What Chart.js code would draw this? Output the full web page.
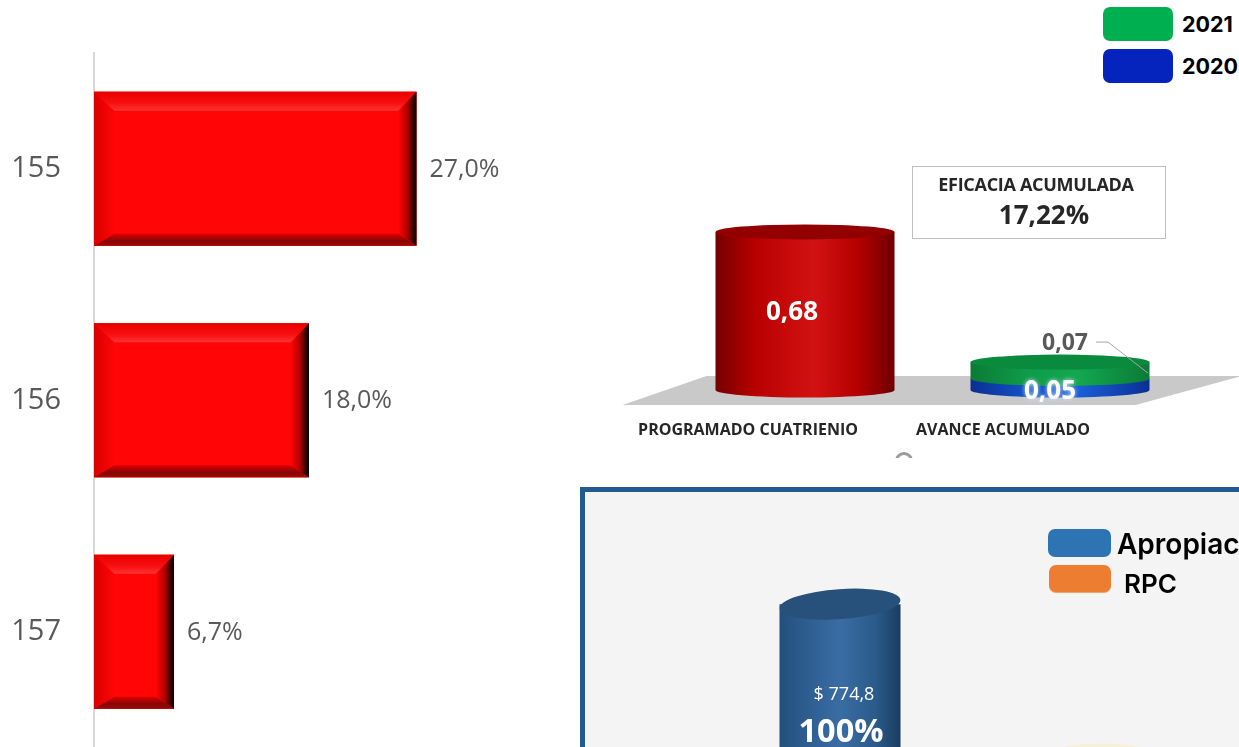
<!DOCTYPE html>
<html lang="es">
<head>
    <meta charset="UTF-8">
    <title>Eficacia acumulada</title>
    <style>
        html, body { margin: 0; padding: 0; background: #fff; }
        #page { position: relative; width: 1239px; height: 747px; overflow: hidden; background: #fff; font-family: "Open Sans", sans-serif; }
        canvas { position: absolute; }
        .swatch { position: absolute; border-radius: 7px; }
        .legendText { position: absolute; font-family: Inter, sans-serif; color: #000; white-space: nowrap; line-height: 1; }
        #panel { position: absolute; left: 580px; top: 487px; width: 800px; height: 500px; background: #f4f4f4; border: 5px solid #235a8f; }
        #eficacia { position: absolute; left: 912px; top: 166px; width: 252px; height: 71px; border: 1.5px solid #bfbfbf; background: #fff; text-align: center; color: #262626; }
        #eficacia .t1 { position: absolute; left: -2px; width: 250px; top: 5px; font-size: 18px; font-weight: 700; letter-spacing: -0.3px; }
        #eficacia .t2 { position: absolute; left: 6px; width: 250px; top: 29px; font-size: 26px; font-weight: 700; }
        #stray { position: absolute; left: 895px; top: 452px; width: 18px; height: 6px; overflow: hidden; }
        #stray div { width: 12px; height: 12px; border: 3px solid #9a9a9a; border-radius: 50%; }
    </style>
</head>
<body>
<div id="page">
    <div id="panel"></div>
    <canvas id="metasChart" width="512" height="790" style="left:0;top:0"></canvas>
    <canvas id="avanceChart" width="639" height="310" style="left:600px;top:150px"></canvas>
    <canvas id="presupuestoChart" width="654" height="500" style="left:585px;top:492px"></canvas>

    <div class="swatch" style="left:1103px;top:7px;width:70px;height:34px;background:#00b050"></div>
    <div class="legendText" style="left:1182px;top:14px;font-size:21.5px;font-weight:700">2021</div>
    <div class="swatch" style="left:1103px;top:49px;width:70px;height:34px;background:#0424bd"></div>
    <div class="legendText" style="left:1182px;top:56px;font-size:21.5px;font-weight:700">2020</div>

    <div id="eficacia"><div class="t1">EFICACIA ACUMULADA</div><div class="t2">17,22%</div></div>
    <div id="stray"><div></div></div>

    <div class="swatch" style="left:1048px;top:529px;width:63px;height:28px;background:#2e74b5"></div>
    <div class="legendText" style="left:1117px;top:530px;font-size:28px;font-weight:600">Apropiación</div>
    <div class="swatch" style="left:1049px;top:565px;width:62px;height:27px;background:#ed7d31;border-bottom:1px solid #f4a26c"></div>
    <div class="legendText" style="left:1124px;top:571px;font-size:26px;font-weight:600">RPC</div>
</div>

<script src="https://cdnjs.cloudflare.com/ajax/libs/Chart.js/4.4.1/chart.umd.js"></script>
<script>
    // left chart
    const metaLabels = ['155', '156', '157'];
    const metaValues = [27.0, 18.0, 6.7];

    // middle chart
    const avanceLabels = ['PROGRAMADO CUATRIENIO', 'AVANCE ACUMULADO'];
    const programado = [0.68, null];
    const avance2020 = [null, 0.05];
    const avance2021 = [null, 0.07];

    // bottom chart, cut off by the picture (RPC value estimated from where its top shows)
    const presupuestoLabels = ['Apropiación', 'RPC'];
    const presupuestoValues = [774.8, 425];
    const presupuestoPct = ['100%', ''];

    function comma(v, d) {
        return v.toFixed(d).replace('.', ',');
    }

    function hGrad(ctx, x0, x1, stops) {
        const g = ctx.createLinearGradient(x0, 0, x1, 0);
        stops.forEach(s => g.addColorStop(s[0], s[1]));
        return g;
    }

    function vGrad(ctx, y0, y1, stops) {
        const g = ctx.createLinearGradient(0, y0, 0, y1);
        stops.forEach(s => g.addColorStop(s[0], s[1]));
        return g;
    }

    function poly(ctx, pts, fill) {
        ctx.beginPath();
        pts.forEach((p, i) => i ? ctx.lineTo(p[0], p[1]) : ctx.moveTo(p[0], p[1]));
        ctx.closePath();
        ctx.fillStyle = fill;
        ctx.fill();
    }

    const bevelBars = {
        id: 'bevelBars',
        afterDatasetsDraw(chart) {
            const ctx = chart.ctx;
            chart.getDatasetMeta(0).data.forEach((bar, i) => {
                const x0 = bar.base, x1 = bar.x;
                const y0 = bar.y - bar.height / 2, y1 = bar.y + bar.height / 2;
                const t = 19, b = 12, l = 20, r = 18;
                ctx.save();
                ctx.fillStyle = '#ff0505';
                ctx.fillRect(x0, y0, x1 - x0, y1 - y0);
                poly(ctx, [[x0, y0], [x1, y0], [x1 - r, y0 + t], [x0 + l, y0 + t]],
                    vGrad(ctx, y0, y0 + t, [[0, '#e80000'], [0.6, '#f81010'], [1, '#ff3434']]));
                poly(ctx, [[x0, y1], [x1, y1], [x1 - r, y1 - b], [x0 + l, y1 - b]],
                    vGrad(ctx, y1 - b, y1, [[0, '#e00000'], [0.6, '#860606'], [1, '#a00808']]));
                poly(ctx, [[x1, y0], [x1, y1], [x1 - r, y1 - b], [x1 - r, y0 + t]],
                    hGrad(ctx, x1 - r, x1, [[0, '#ff0505'], [0.5, '#b00000'], [0.85, '#2a0000'], [1, '#000']]));
                poly(ctx, [[x0, y0], [x0, y1], [x0 + l, y1 - b], [x0 + l, y0 + t]],
                    hGrad(ctx, x0, x0 + l, [[0, '#d80000'], [1, '#ff0505']]));
                ctx.fillStyle = '#595959';
                ctx.font = '25px "Open Sans"';
                ctx.textBaseline = 'middle';
                ctx.textAlign = 'left';
                ctx.fillText(comma(metaValues[i], 1) + '%', x1 + 13, bar.y + 1);
                ctx.restore();
            });
        }
    };

    // one cylinder, tilt turns the top ellipse a little for the bottom chart
    function cylinder(ctx, x0, x1, yTop, yBot, ry, look, tilt) {
        const cx = (x0 + x1) / 2, rx = (x1 - x0) / 2;
        ctx.beginPath();
        ctx.moveTo(x0, yTop);
        ctx.lineTo(x0, yBot);
        ctx.ellipse(cx, yBot, rx, ry, 0, Math.PI, 0, true);
        ctx.lineTo(x1, yTop);
        ctx.closePath();
        ctx.fillStyle = hGrad(ctx, x0, x1, look.side);
        ctx.fill();
        if (look.top) {
            ctx.beginPath();
            ctx.ellipse(cx, yTop, rx, ry, tilt || 0, 0, Math.PI * 2);
            ctx.fillStyle = look.top;
            ctx.fill();
        }
    }

    const avanceLooks = [
        { side: [[0, '#750000'], [0.22, '#b80000'], [0.55, '#d21212'], [0.8, '#b40000'], [1, '#6e0000']], top: '#930000' },
        { side: [[0, '#0a2f94'], [0.3, '#1350c4'], [0.6, '#1a5fd6'], [1, '#0a2f94']], top: null },
        { side: [[0, '#0b7a36'], [0.3, '#0f9a48'], [0.6, '#12a850'], [1, '#0b7a36']], top: '#0a8a3c' }
    ];

    const cylinders3d = {
        id: 'cylinders3d',
        beforeDatasetsDraw(chart) {
            const ctx = chart.ctx, a = chart.chartArea;
            const base = chart.scales.y.getPixelForValue(0);
            poly(ctx, [[a.left - 55, base + 15], [a.left + 458, base + 15], [a.right + 54, base - 14], [a.left + 29, base - 14]], '#c9c9c9');
        },
        afterDatasetsDraw(chart) {
            const ctx = chart.ctx;
            chart.data.datasets.forEach((ds, i) => {
                chart.getDatasetMeta(i).data.forEach((bar, j) => {
                    if (ds.data[j] === null) return;
                    cylinder(ctx, bar.x - bar.width / 2, bar.x + bar.width / 2, bar.y, bar.base, 7.5, avanceLooks[i]);
                });
            });

            const red = chart.getDatasetMeta(0).data[0];
            const blue = chart.getDatasetMeta(1).data[1];
            const green = chart.getDatasetMeta(2).data[1];
            ctx.save();
            ctx.textAlign = 'center';
            ctx.textBaseline = 'middle';

            ctx.font = '700 26px "Open Sans"';
            ctx.fillStyle = '#fff';
            ctx.fillText(comma(programado[0], 2), red.x - 13, (red.y + red.base) / 2 + 2);

            ctx.shadowColor = '#cfe0ff';
            ctx.shadowBlur = 4;
            ctx.font = '700 26px "Open Sans"';
            ctx.fillText(comma(avance2020[1], 2), blue.x - 10, blue.base + 2);
            ctx.shadowBlur = 0;

            ctx.font = '700 23px "Open Sans"';
            ctx.fillStyle = '#595959';
            ctx.fillText(comma(avance2021[1], 2), green.x + 5, green.y - 19);

            ctx.strokeStyle = '#a6a6a6';
            ctx.lineWidth = 1;
            ctx.beginPath();
            ctx.moveTo(green.x + 36, green.y - 20);
            ctx.lineTo(green.x + 48, green.y - 20);
            ctx.lineTo(green.x + 88, green.y + 11);
            ctx.stroke();
            ctx.restore();
        }
    };

    const presupuestoLooks = [
        { side: [[0, '#234f7c'], [0.2, '#2c5c8e'], [0.5, '#3a6da4'], [0.8, '#2a5a8a'], [1, '#1b3d5e']], top: '#27507a' },
        { side: [[0, '#c96a26'], [0.5, '#ed7d31'], [1, '#b9601f']], top: '#f8efd9' }
    ];

    const cylindersPanel = {
        id: 'cylindersPanel',
        afterDatasetsDraw(chart) {
            const ctx = chart.ctx;
            chart.getDatasetMeta(0).data.forEach((bar, j) => {
                cylinder(ctx, bar.x - bar.width / 2, bar.x + bar.width / 2, bar.y, bar.base, 15, presupuestoLooks[j], -0.07);
            });
            const first = chart.getDatasetMeta(0).data[0];
            ctx.save();
            ctx.fillStyle = '#fff';
            ctx.textAlign = 'center';
            ctx.textBaseline = 'middle';
            ctx.font = '18px "Open Sans"';
            ctx.fillText('$ ' + comma(presupuestoValues[0], 1), first.x + 4, first.y + 91);
            ctx.font = '700 32.5px "Open Sans"';
            ctx.fillText(presupuestoPct[0], first.x + 1, first.y + 129);
            ctx.restore();
        }
    };

    new Chart(document.getElementById('metasChart'), {
        type: 'bar',
        data: {
            labels: metaLabels,
            datasets: [{ data: metaValues, backgroundColor: '#ff0505', barPercentage: 0.665, categoryPercentage: 1 }]
        },
        options: {
            indexAxis: 'y',
            responsive: false,
            animation: false,
            layout: { padding: { top: 53 } },
            plugins: { legend: { display: false }, tooltip: { enabled: false } },
            scales: {
                x: { display: false, min: 0, max: 35 },
                y: {
                    afterFit(scale) { scale.width = 94; },
                    border: { color: '#d9d9d9', width: 2 },
                    grid: { display: false },
                    ticks: { color: '#595959', font: { family: 'Open Sans', size: 29 }, padding: 25 }
                }
            }
        },
        plugins: [bevelBars]
    });

    new Chart(document.getElementById('avanceChart'), {
        type: 'bar',
        data: {
            labels: avanceLabels,
            datasets: [
                { label: 'Programado', data: programado, backgroundColor: 'transparent', barPercentage: 0.702, categoryPercentage: 1 },
                { label: '2020', data: avance2020, backgroundColor: 'transparent', barPercentage: 0.702, categoryPercentage: 1 },
                { label: '2021', data: avance2021, backgroundColor: 'transparent', barPercentage: 0.702, categoryPercentage: 1 }
            ]
        },
        options: {
            responsive: false,
            animation: false,
            layout: { padding: { top: 54, left: 77.5, right: 51.5 } },
            plugins: { legend: { display: false }, tooltip: { enabled: false } },
            scales: {
                y: { display: false, stacked: true, min: 0, max: 0.8 },
                x: {
                    stacked: true,
                    afterFit(scale) { scale.height = 70; },
                    border: { display: false },
                    grid: { display: false, drawTicks: false },
                    ticks: {
                        color: '#262626',
                        font: { family: 'Open Sans', size: 16, weight: '700' },
                        padding: 31,
                        labelOffset: -57,
                        maxRotation: 0
                    }
                }
            }
        },
        plugins: [cylinders3d]
    });

    new Chart(document.getElementById('presupuestoChart'), {
        type: 'bar',
        data: {
            labels: presupuestoLabels,
            datasets: [{ data: presupuestoValues, backgroundColor: 'transparent', barPercentage: 0.488, categoryPercentage: 1 }]
        },
        options: {
            responsive: false,
            animation: false,
            layout: { padding: { top: 101, bottom: 45, left: 131, right: 27 } },
            plugins: { legend: { display: false }, tooltip: { enabled: false } },
            scales: {
                x: { display: false },
                y: { display: false, min: 0, max: 800 }
            }
        },
        plugins: [cylindersPanel]
    });
</script>
</body>
</html>
